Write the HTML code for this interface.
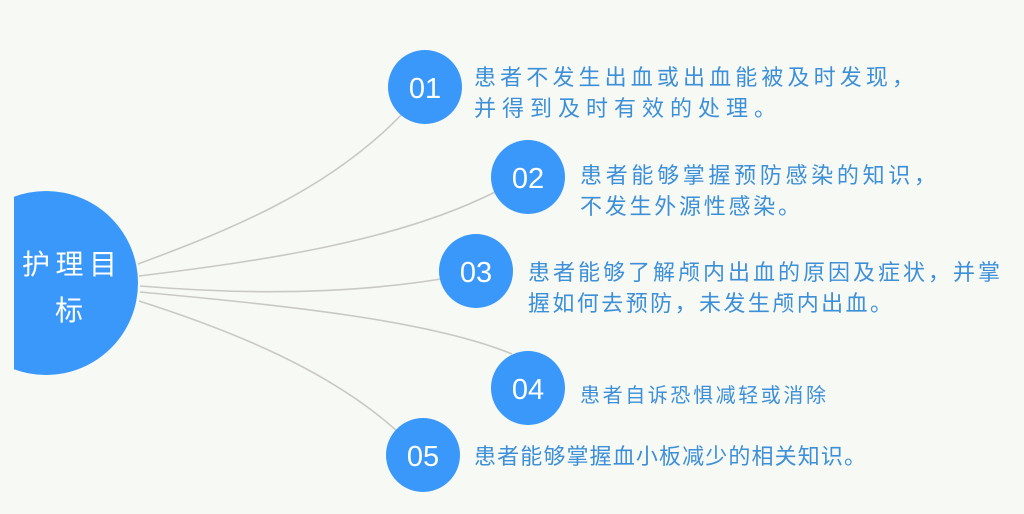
<!DOCTYPE html>
<html><head><meta charset="utf-8"><style>
html,body{margin:0;padding:0;background:#f7f9f5;}
svg{display:block}
text{font-family:"Liberation Sans","Noto Sans CJK SC",sans-serif;}
</style></head><body>
<svg width="1024" height="514" viewBox="0 0 1024 514" xmlns="http://www.w3.org/2000/svg">
<rect width="1024" height="514" fill="#f7f9f5"/>
<g fill="none" stroke="#c9c9c4" stroke-width="1.6">
<path d="M138,264 C230,230 330,190 404,112"/>
<path d="M139,276 C270,260 400,240 495,192"/>
<path d="M140,286 C260,296 360,292 441,279"/>
<path d="M140,292 C280,305 430,320 512,354"/>
<path d="M139,301 C230,330 330,370 398,432"/>
</g>
<clipPath id="c"><rect x="14" y="0" width="200" height="514"/></clipPath>
<circle cx="46" cy="283" r="92" fill="#3a98fb" clip-path="url(#c)"/>
<g fill="#fff" font-size="28">
<text x="22" y="274" textLength="95" lengthAdjust="spacing">护理目</text>
<text x="55" y="320">标</text>
</g>
<g fill="#3a98fb">
<circle cx="425" cy="87" r="37"/>
<circle cx="528" cy="177" r="37"/>
<circle cx="476" cy="271" r="37"/>
<circle cx="528" cy="388" r="37"/>
<circle cx="423" cy="455" r="37"/>
</g>
<g fill="#fff" font-size="29" text-anchor="middle">
<text x="425" y="98">01</text>
<text x="528" y="188">02</text>
<text x="476" y="282">03</text>
<text x="528" y="399">04</text>
<text x="423" y="466">05</text>
</g>
<g fill="#3d8fd8" font-size="22">
<text x="474" y="85" textLength="440" lengthAdjust="spacing">患者不发生出血或出血能被及时发现，</text>
<text x="474" y="116" textLength="302" lengthAdjust="spacing">并得到及时有效的处理。</text>
<text x="580" y="183" textLength="356" lengthAdjust="spacing">患者能够掌握预防感染的知识，</text>
<text x="580" y="214" textLength="220" lengthAdjust="spacing">不发生外源性感染。</text>
<text x="528" y="280" textLength="472" lengthAdjust="spacing">患者能够了解颅内出血的原因及症状，并掌</text>
<text x="528" y="311" textLength="364" lengthAdjust="spacing">握如何去预防，未发生颅内出血。</text>
<text x="580" y="402" font-size="20" textLength="246" lengthAdjust="spacing">患者自诉恐惧减轻或消除</text>
<text x="474" y="464" textLength="392" lengthAdjust="spacing">患者能够掌握血小板减少的相关知识。</text>
</g>
</svg>
</body></html>
